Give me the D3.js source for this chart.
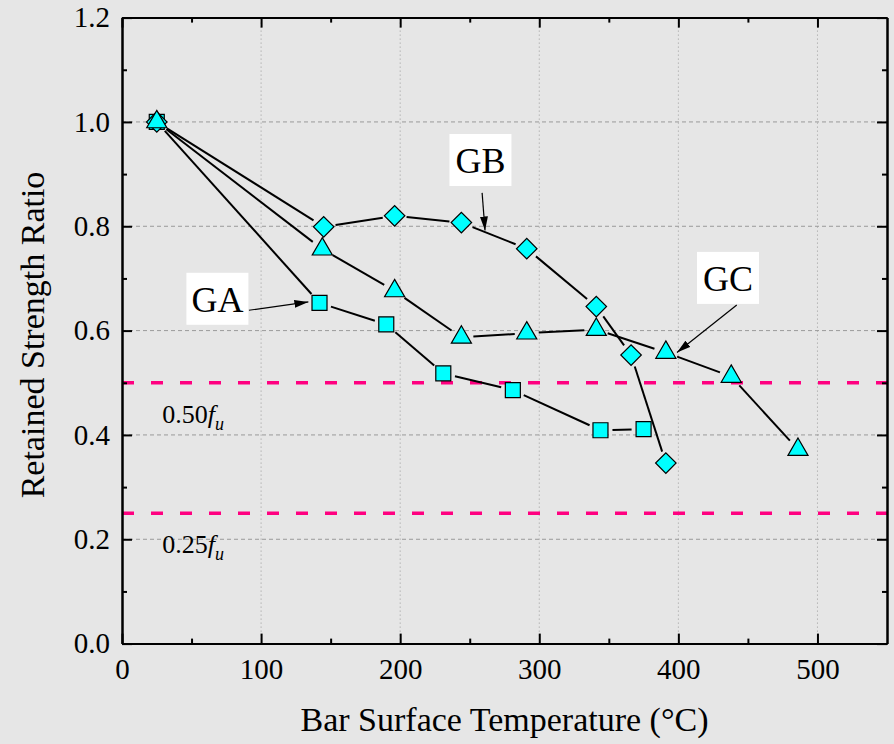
<!DOCTYPE html>
<html>
<head>
<meta charset="utf-8">
<script src="https://cdn.jsdelivr.net/npm/d3@7"></script>
<style>
  body { margin: 0; background: #e6e6e6; }
  svg { display: block; }
  svg text { font-family: "Liberation Serif", "Times New Roman", serif; fill: #000; }
</style>
</head>
<body>
<svg width="894" height="744"></svg>
<script>
// series (temperature in °C, retained strength ratio)
const gaTemp  = [25, 142, 190, 231, 281, 344, 375];
const gaRatio = [1.0, 0.653, 0.612, 0.518, 0.486, 0.409, 0.411];
const gbTemp  = [25, 145, 196, 244, 291, 341, 366, 391];
const gbRatio = [1.0, 0.799, 0.820, 0.807, 0.757, 0.646, 0.553, 0.346];
const gcTemp  = [25, 144, 196, 244, 291, 341, 391, 438, 486];
const gcRatio = [1.0, 0.756, 0.676, 0.587, 0.595, 0.602, 0.558, 0.512, 0.372];

const xTicks = [0, 100, 200, 300, 400, 500];
const yTicks = [0.0, 0.2, 0.4, 0.6, 0.8, 1.0, 1.2];
const limitLines = [0.50, 0.25];
const limitLabels = ["0.50", "0.25"];

// annotation labels: box centre, arrow tail, arrow tip (data units)
const noteNames = ["GA", "GB", "GC"];
const noteBox   = [[68.6, 0.661], [257.7, 0.927], [435.7, 0.701]];
const noteTail  = [[91.2, 0.639], [258.9, 0.864], [442, 0.649]];
const noteTip   = [[134, 0.655], [261, 0.792], [399, 0.558]];

const svg = d3.select("svg");
const width = +svg.attr("width");
const height = +svg.attr("height");
const margin = {top: 17.6, right: 7, bottom: 100.4, left: 122};
const font = "Liberation Serif, Times New Roman, serif";

svg.append("rect").attr("width", width).attr("height", height).attr("fill", "#e6e6e6");

const x = d3.scaleLinear().domain([0, 550]).range([margin.left, width - margin.right]);
const y = d3.scaleLinear().domain([0, 1.2]).range([height - margin.bottom, margin.top]);

// grid
svg.append("g")
  .selectAll("line")
  .data(xTicks.filter(d => d > 0))
  .join("line")
    .attr("x1", d => x(d)).attr("x2", d => x(d))
    .attr("y1", y(0)).attr("y2", y(1.2))
    .attr("stroke", "#9a9a9a").attr("stroke-width", 1)
    .attr("stroke-dasharray", "1,3");
svg.append("g")
  .selectAll("line")
  .data(yTicks.filter(d => d > 0 && d < 1.2))
  .join("line")
    .attr("x1", x(0)).attr("x2", x(550))
    .attr("y1", d => y(d)).attr("y2", d => y(d))
    .attr("stroke", "#9a9a9a").attr("stroke-width", 1)
    .attr("stroke-dasharray", "4,3");

// 0.50fu and 0.25fu limit lines
svg.append("g")
  .selectAll("line")
  .data(limitLines)
  .join("line")
    .attr("x1", x(0)).attr("x2", x(550))
    .attr("y1", d => y(d)).attr("y2", d => y(d))
    .attr("stroke", "#ff0080").attr("stroke-width", 3.5)
    .attr("stroke-dasharray", "12,17");

const limitText = svg.append("g")
  .selectAll("text")
  .data(limitLines)
  .join("text")
    .attr("x", x(29))
    .attr("y", d => y(d) + 40)
    .attr("font-family", font)
    .attr("font-size", 26);
limitText.append("tspan").text((d, i) => limitLabels[i]);
limitText.append("tspan").attr("font-style", "italic").text("f");
limitText.append("tspan").attr("font-style", "italic").attr("font-size", 18)
  .attr("dy", 7).text("u");

// series
const series = [
  {temp: gaTemp, ratio: gaRatio, shape: d3.symbolSquare, size: 225, rot: 0},
  {temp: gbTemp, ratio: gbRatio, shape: d3.symbolSquare, size: 210, rot: 45},
  {temp: gcTemp, ratio: gcRatio, shape: d3.symbolTriangle, size: 175, rot: 0}
];
const gap = 12;

series.forEach(s => {
  const pts = s.temp.map((t, i) => [x(t), y(s.ratio[i])]);
  const segs = d3.pairs(pts).map(([a, b]) => {
    const dx = b[0] - a[0], dy = b[1] - a[1];
    const len = Math.hypot(dx, dy);
    const ux = dx / len, uy = dy / len;
    return [a[0] + ux * gap, a[1] + uy * gap, b[0] - ux * gap, b[1] - uy * gap];
  });
  svg.append("g")
    .selectAll("line")
    .data(segs)
    .join("line")
      .attr("x1", d => d[0]).attr("y1", d => d[1])
      .attr("x2", d => d[2]).attr("y2", d => d[3])
      .attr("stroke", "#000").attr("stroke-width", 2);
});

series.forEach(s => {
  svg.append("g")
    .selectAll("path")
    .data(s.temp)
    .join("path")
      .attr("d", d3.symbol(s.shape, s.size))
      .attr("transform", (d, i) => `translate(${x(d)},${y(s.ratio[i])}) rotate(${s.rot})`)
      .attr("fill", "#00ffff")
      .attr("stroke", "#000").attr("stroke-width", 1.2);
});

// annotations
svg.append("defs").append("marker")
  .attr("id", "head")
  .attr("viewBox", "0 0 14 8")
  .attr("refX", 14).attr("refY", 4)
  .attr("markerWidth", 14).attr("markerHeight", 8)
  .attr("markerUnits", "userSpaceOnUse")
  .attr("orient", "auto")
  .append("path").attr("d", "M0,0L14,4L0,8Z").attr("fill", "#000");

const notes = svg.append("g")
  .selectAll("g")
  .data(noteNames)
  .join("g");
notes.append("line")
  .attr("x1", (d, i) => x(noteTail[i][0])).attr("y1", (d, i) => y(noteTail[i][1]))
  .attr("x2", (d, i) => x(noteTip[i][0])).attr("y2", (d, i) => y(noteTip[i][1]))
  .attr("stroke", "#000").attr("stroke-width", 1.2)
  .attr("marker-end", "url(#head)");
notes.append("rect")
  .attr("x", (d, i) => x(noteBox[i][0]) - 31)
  .attr("y", (d, i) => y(noteBox[i][1]) - 26)
  .attr("width", 62).attr("height", 52)
  .attr("fill", "#fff");
notes.append("text")
  .attr("x", (d, i) => x(noteBox[i][0]))
  .attr("y", (d, i) => y(noteBox[i][1]) + 13)
  .attr("text-anchor", "middle")
  .attr("font-family", font)
  .attr("font-size", 36)
  .text(d => d);

// axes: inward major and minor ticks on all four sides
const minorX = d3.range(50, 550, 100);
const minorY = d3.range(0.1, 1.2, 0.2);

function styleAxis(g) {
  g.attr("font-family", font).attr("font-size", 29);
  g.select(".domain").attr("stroke", "#000").attr("stroke-width", 2);
  g.selectAll(".tick line").attr("stroke", "#000").attr("stroke-width", 2);
  g.selectAll(".tick text").attr("fill", "#000");
}

svg.append("g")
  .attr("transform", `translate(0,${y(0)})`)
  .call(d3.axisBottom(x).tickValues(xTicks).tickSize(-10).tickPadding(15).tickSizeOuter(0).tickFormat(d3.format("d")))
  .call(styleAxis);
svg.append("g")
  .attr("transform", `translate(0,${y(0)})`)
  .call(d3.axisBottom(x).tickValues(minorX).tickSize(-5).tickFormat("").tickSizeOuter(0))
  .call(styleAxis);
svg.append("g")
  .attr("transform", `translate(0,${y(1.2)})`)
  .call(d3.axisTop(x).tickValues(xTicks).tickSize(-10).tickFormat("").tickSizeOuter(0))
  .call(styleAxis);
svg.append("g")
  .attr("transform", `translate(0,${y(1.2)})`)
  .call(d3.axisTop(x).tickValues(minorX).tickSize(-5).tickFormat("").tickSizeOuter(0))
  .call(styleAxis);

svg.append("g")
  .attr("transform", `translate(${x(0)},0)`)
  .call(d3.axisLeft(y).tickValues(yTicks).tickSize(-10).tickPadding(12).tickSizeOuter(0).tickFormat(d3.format(".1f")))
  .call(styleAxis);
svg.append("g")
  .attr("transform", `translate(${x(0)},0)`)
  .call(d3.axisLeft(y).tickValues(minorY).tickSize(-5).tickFormat("").tickSizeOuter(0))
  .call(styleAxis);
svg.append("g")
  .attr("transform", `translate(${x(550)},0)`)
  .call(d3.axisRight(y).tickValues(yTicks).tickSize(-10).tickFormat("").tickSizeOuter(0))
  .call(styleAxis);
svg.append("g")
  .attr("transform", `translate(${x(550)},0)`)
  .call(d3.axisRight(y).tickValues(minorY).tickSize(-5).tickFormat("").tickSizeOuter(0))
  .call(styleAxis);

// axis titles
svg.append("text")
  .attr("x", (x(0) + x(550)) / 2)
  .attr("y", 731)
  .attr("text-anchor", "middle")
  .attr("font-family", font)
  .attr("font-size", 34)
  .text("Bar Surface Temperature (°C)");

svg.append("text")
  .attr("transform", `translate(44,335) rotate(-90)`)
  .attr("text-anchor", "middle")
  .attr("font-family", font)
  .attr("font-size", 34)
  .text("Retained Strength Ratio");
</script>
</body>
</html>
